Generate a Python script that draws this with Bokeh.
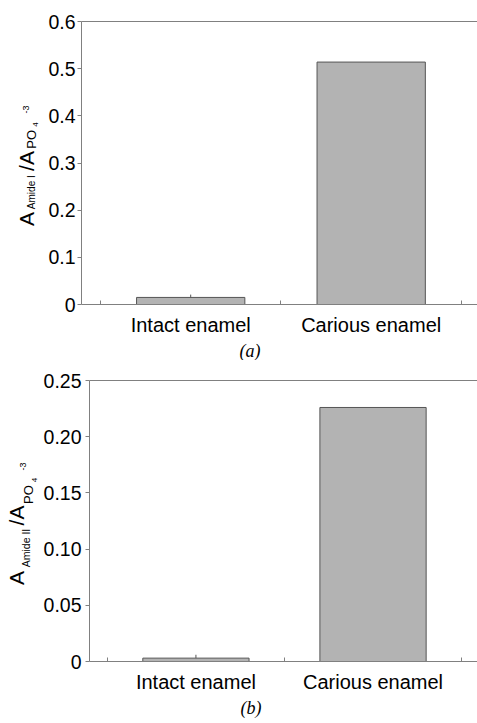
import math
from bokeh.plotting import figure
from bokeh.layouts import column, row
from bokeh.models import Range1d, FixedTicker, LinearAxis, Label, Title
from bokeh.embed import file_html
from bokeh.resources import INLINE

# ---- data ----
categories = ["Intact enamel", "Carious enamel"]
amide1_ratio = [0.015, 0.514]
amide1_err = [0.006, 0.0]
amide2_ratio = [0.003, 0.226]
amide2_err = [0.003, 0.0]
yticks_a = [0, 0.1, 0.2, 0.3, 0.4, 0.5, 0.6]
ylabels_a = ["0", "0.1", "0.2", "0.3", "0.4", "0.5", "0.6"]
yticks_b = [0, 0.05, 0.10, 0.15, 0.20, 0.25]
ylabels_b = ["0", "0.05", "0.10", "0.15", "0.20", "0.25"]

FONT = "Liberation Sans"
AXIS_COL = "#808080"
W = 477
LW = 40  # width of the strip that carries the y-axis title


def title_strip(height, top_b, frame_h, parts):
    # the strip's frame has the same vertical extent as the panel's frame;
    # its ranges are set so that data units equal pixels of the figure
    s = figure(width=LW, height=height, output_backend="svg", toolbar_location=None,
               x_range=Range1d(0, LW), y_range=Range1d(top_b + frame_h, top_b),
               x_axis_type=None, y_axis_type=None, min_border_left=0,
               min_border_right=0, min_border_top=top_b,
               min_border_bottom=height - top_b - frame_h)
    s.outline_line_color = None
    for text, size, cx, cy in parts:
        s.add_layout(Label(x=cx, y=cy, text=text, angle=math.pi / 2,
                           text_align="center", text_baseline="middle",
                           text_font=FONT, text_font_size=size, text_color="black"))
    return s


def panel(values, errs, yticks, ylabels, height, top_b, frame_h, left_b, xstart, xend,
          ystandoff, caption, cap_offset):
    p = figure(width=W - LW, height=height, output_backend="svg", toolbar_location=None,
               x_range=Range1d(xstart, xend), y_range=Range1d(yticks[0], yticks[-1]),
               x_axis_type=None, y_axis_type=None,
               min_border_top=top_b, min_border_left=left_b - LW, min_border_right=0,
               min_border_bottom=height - top_b - frame_h)
    p.outline_line_color = None

    centers = [i + 0.5 for i in range(len(categories))]
    p.vbar(x=centers, top=values, width=0.6, bottom=0,
           fill_color="#b3b3b3", line_color="#555555", line_width=1)
    p.segment(x0=centers, x1=centers, y0=values,
              y1=[v + e for v, e in zip(values, errs)],
              line_color="#555555", line_width=1)

    # y axis
    ya = LinearAxis(ticker=FixedTicker(ticks=yticks, minor_ticks=[]),
                    major_label_overrides={t: l for t, l in zip(yticks, ylabels)})
    ya.axis_line_color = AXIS_COL
    ya.major_tick_line_color = AXIS_COL
    ya.major_tick_in = 0
    ya.major_tick_out = 4
    ya.minor_tick_line_color = None
    ya.major_label_standoff = ystandoff
    ya.major_label_text_font = FONT
    ya.major_label_text_font_size = "19.5px"
    ya.major_label_text_color = "black"
    p.add_layout(ya, "left")

    # x axis: ticks on category boundaries, labels at centres
    xa = LinearAxis(ticker=FixedTicker(ticks=centers,
                                       minor_ticks=list(range(len(categories) + 1))),
                    major_label_overrides={c: n for c, n in zip(centers, categories)})
    xa.axis_line_color = AXIS_COL
    xa.major_tick_in = 0
    xa.major_tick_out = 0
    xa.major_tick_line_color = None
    xa.minor_tick_line_color = AXIS_COL
    xa.minor_tick_in = 4
    xa.minor_tick_out = 0
    xa.major_label_standoff = 9
    xa.major_label_text_font = FONT
    xa.major_label_text_font_size = "20px"
    xa.major_label_text_color = "black"
    p.add_layout(xa, "below")

    # caption under the axis
    p.add_layout(Title(text=caption, align="left", offset=cap_offset, standoff=0,
                       text_font="Liberation Serif", text_font_style="italic",
                       text_font_size="18px", text_color="black"), "below")

    # top frame line
    ta = LinearAxis(ticker=FixedTicker(ticks=[]))
    ta.axis_line_color = AXIS_COL
    ta.major_tick_line_color = None
    ta.minor_tick_line_color = None
    ta.major_label_text_font_size = "0px"
    p.add_layout(ta, "above")
    return p


# (text, font size, centre x, centre y) in figure pixels
parts_a = [("A", "21px", 26, 220.5), ("Amide I", "10px", 31, 193.5),
           ("/A", "21px", 26, 162), ("PO", "13px", 31, 140),
           ("4", "8px", 35, 125), ("-3", "9px", 25.5, 110)]
parts_b = [("A", "21px", 16, 217.5), ("Amide II", "10.5px", 25, 187.5),
           ("/A", "21px", 16, 155), ("PO", "13px", 28, 134),
           ("4", "8px", 33.5, 119.5), ("-3", "9px", 22, 106)]

H1, H2 = 360, 363
p1 = panel(amide1_ratio, amide1_err, yticks_a, ylabels_a, H1, 21, 286, 81,
           -0.105, 2.089, 2, "(a)", 158)
p2 = panel(amide2_ratio, amide2_err, yticks_b, ylabels_b, H2, 20, 281, 87,
           -0.101, 2.09, 4, "(b)", 151)

layout = column(row(title_strip(H1, 21, 286, parts_a), p1, spacing=0),
                row(title_strip(H2, 20, 281, parts_b), p2, spacing=0), spacing=0)
open("out.html", "w").write(file_html(layout, INLINE))
